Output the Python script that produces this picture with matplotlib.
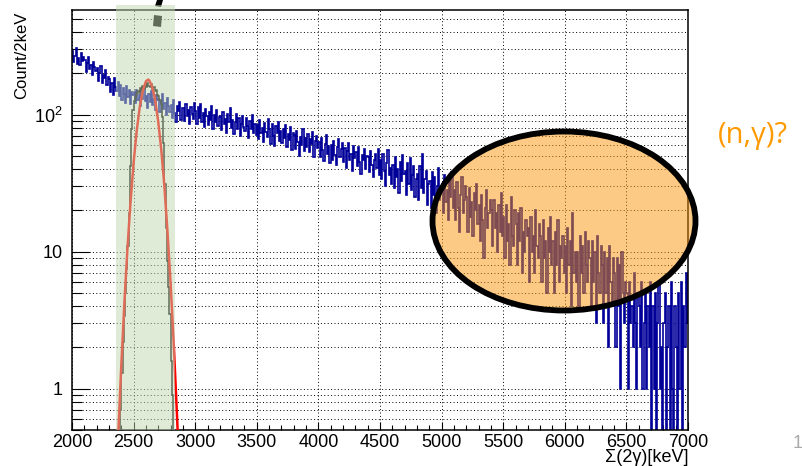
import numpy as np
import matplotlib
matplotlib.use('Agg')
import matplotlib.pyplot as plt
from matplotlib.patches import Rectangle, Ellipse, Polygon
from matplotlib.transforms import Affine2D, blended_transform_factory
from matplotlib.ticker import FixedLocator, FixedFormatter, LogLocator, NullFormatter, MultipleLocator

plt.rcParams['font.family'] = ['Liberation Sans', 'DejaVu Sans']
plt.rcParams['mathtext.fontset'] = 'custom'
plt.rcParams['mathtext.rm'] = 'Liberation Sans'

# sum energy spectrum, counts per 2keV, read in 10 keV steps from 2000 to 7000
blue_edges = np.arange(2000, 7001, 10)
blue_counts = [
    290, 242, 268, 305, 236, 259, 231, 284, 247, 262,
    251, 205, 237, 262, 214, 230, 196, 244, 221, 208,
    218, 176, 202, 227, 170, 195, 184, 212, 165, 189,
    181, 146, 170, 139, 186, 158, 149, 173, 137, 164,
    128, 157, 141, 122, 163, 135, 150, 119, 146, 138,
    # 2500
    147, 121, 152, 128, 139, 115, 144, 131, 158, 126,
    136, 112, 141, 124, 149, 118, 130, 108, 139, 127,
    131, 105, 126, 141, 110, 122, 99, 133, 116, 104,
    118, 94, 127, 102, 88, 115, 106, 124, 91, 111,
    112, 90, 119, 98, 108, 85, 114, 101, 93, 121,
    # 3000
    107, 86, 113, 94, 120, 89, 102, 81, 110, 97,
    84, 104, 91, 115, 79, 99, 88, 108, 83, 96,
    98, 77, 105, 86, 93, 74, 101, 89, 112, 80,
    92, 72, 88, 101, 79, 95, 70, 86, 98, 81,
    76, 94, 83, 68, 90, 78, 99, 73, 85, 71,
    # 3500
    84, 66, 91, 73, 80, 63, 87, 75, 69, 93,
    78, 61, 85, 70, 59, 82, 74, 89, 64, 76,
    62, 79, 67, 84, 58, 72, 65, 81, 55, 74,
    71, 56, 76, 63, 50, 69, 60, 78, 54, 67,
    58, 72, 53, 66, 61, 75, 49, 64, 70, 57,
    # 4000
    63, 49, 68, 55, 46, 61, 71, 52, 59, 44,
    60, 47, 64, 51, 43, 58, 66, 49, 56, 62,
    45, 57, 41, 54, 62, 47, 52, 39, 59, 48,
    53, 42, 58, 45, 37, 51, 47, 56, 40, 50,
    49, 38, 54, 43, 35, 47, 52, 41, 56, 36,
    # 4500
    47, 34, 52, 39, 30, 44, 55, 36, 41, 31,
    43, 29, 49, 35, 40, 27, 45, 33, 51, 37,
    39, 26, 44, 31, 48, 28, 36, 42, 25, 34,
    37, 24, 42, 29, 52, 27, 34, 39, 22, 31,
    33, 21, 38, 26, 35, 19, 30, 41, 24, 28,
    # 5000
    31, 19, 36, 23, 28, 17, 33, 25, 38, 21,
    28, 17, 32, 21, 14, 26, 35, 19, 24, 30,
    25, 14, 29, 18, 23, 13, 27, 20, 31, 16,
    22, 12, 26, 17, 9, 21, 28, 15, 19, 24,
    20, 11, 24, 15, 19, 10, 22, 14, 27, 13,
    # 5500
    18, 9, 22, 12, 16, 8, 25, 13, 11, 20,
    16, 8, 19, 12, 21, 7, 14, 10, 17, 13,
    15, 6, 18, 10, 13, 7, 20, 11, 9, 16,
    13, 6, 17, 9, 12, 5, 15, 10, 18, 8,
    12, 5, 14, 8, 17, 6, 11, 9, 13, 7,
    # 6000
    11, 5, 15, 8, 12, 4, 19, 7, 10, 6,
    10, 4, 13, 7, 11, 5, 14, 8, 6, 12,
    9, 4, 12, 6, 10, 3, 13, 7, 5, 11,
    8, 3, 10, 5, 9, 2, 11, 6, 4, 9,
    7, 2, 9, 4, 8, 1, 10, 5, 3, 6,
    # 6500
    5, 1, 6, 3, 4, 2, 7, 3, 1, 5,
    4, 2, 6, 1, 3, 5, 1, 4, 2, 6,
    0, 4, 1, 5, 0, 3, 6, 1, 2, 0,
    3, 5, 0, 2, 4, 0, 6, 1, 0, 4,
    2, 0, 5, 1, 6, 0, 4, 2, 7, 3,
]

# gated full energy peak
peak_edges = np.arange(2380, 2831, 10)
peak_counts = [0, 0.7, 1.3, 2.2, 3.4, 5, 7.5, 11, 19, 42,
               78, 108, 126, 133, 141, 148, 143, 156, 149, 161,
               153, 166, 158, 171, 163, 158, 167, 154, 160, 148,
               151, 139, 136, 128, 119, 96, 62, 31, 15, 8.5,
               5.5, 3.5, 1.6, 0.9, 0]

# gaussian fit curve
fit_x = [2360, 2370, 2380, 2400, 2425, 2450, 2475, 2500, 2525, 2550, 2575, 2600,
         2617, 2625, 2650, 2675, 2700, 2725, 2750, 2775, 2800, 2825, 2850, 2860]
fit_y = [0.21, 0.36, 0.58, 1.47, 4.2, 10.5, 23, 44.5, 76, 114, 150, 175,
         180, 179, 161, 128, 89, 55, 30, 14, 5.9, 2.2, 0.71, 0.44]

band_lo, band_hi = 2357, 2836

W, H = 802, 466
fig = plt.figure(figsize=(W / 100, H / 100), dpi=100)
ax = fig.add_axes([72 / W, 1 - 430 / H, (688 - 72) / W, (430 - 10) / H])
# pixel coordinates, origin top left
px = Affine2D().scale(1 / W, -1 / H).translate(0, 1) + fig.transFigure

ax.stairs(blue_counts, blue_edges, color='#000099', lw=1.2, baseline=None, zorder=2)
ax.stairs(peak_counts, peak_edges, color='black', lw=1.1, baseline=None, zorder=3)
ax.plot(fit_x, fit_y, color='red', lw=1.8, zorder=4)

ax.set_yscale('log')
ax.set_xlim(2000, 7000)
ax.set_ylim(0.5, 580)

ax.xaxis.set_major_locator(MultipleLocator(500))
ax.xaxis.set_minor_locator(MultipleLocator(100))
ax.yaxis.set_major_locator(FixedLocator([1, 10, 100]))
ax.yaxis.set_major_formatter(FixedFormatter(['1', '10', r'$\mathregular{10^{2}}$']))
ax.yaxis.set_minor_locator(LogLocator(subs=range(2, 10), numticks=20))
ax.yaxis.set_minor_formatter(NullFormatter())

ax.tick_params(axis='x', which='major', direction='in', length=6, width=0.8, pad=3, labelsize=13)
ax.tick_params(axis='x', which='minor', direction='in', length=3.5, width=0.8)
ax.tick_params(axis='y', which='major', direction='in', length=13, width=0.8, pad=7, labelsize=13)
ax.tick_params(axis='y', which='minor', direction='in', length=7, width=0.8)

dots = (0, (1, 2.5))
ax.set_axisbelow(True)
ax.grid(True, axis='x', which='major', color='black', ls=dots, lw=0.7)
ax.grid(True, axis='y', which='both', color='black', ls=dots, lw=0.7)
for s in ax.spines.values():
    s.set_linewidth(1.1)

# black arrow pieces at the top (partly under the band)
ax.add_patch(Polygon([(157, 0), (163, 0), (161, 7), (155, 6)], closed=True, transform=px,
                     fc='black', ec='none', clip_on=False, zorder=5))
ax.add_patch(Polygon([(154, 15), (162, 16), (161, 27), (153, 26)], closed=True, transform=px,
                     fc='black', ec='none', clip_on=False, zorder=5))

# green gate band
band_tr = blended_transform_factory(ax.transData, px)
ax.add_patch(Rectangle((band_lo, 5), band_hi - band_lo, 425, transform=band_tr,
                       fc='#c0d9b0', alpha=0.5, ec='none', clip_on=False, zorder=6))

# orange ellipse
fig.add_artist(Ellipse((564, 221), 263, 179, transform=px,
                       fc=(0.98, 0.59, 0.04, 0.5), ec='black', lw=4.2))

fig.text(22, 12, 'Count/2keV', transform=px, rotation=90, ha='center', va='top', fontsize=12)
fig.text(688, 458, 'Σ(2γ)[keV]', transform=px, ha='right', va='center', fontsize=13)
fig.text(753, 136, '(n,γ)?', transform=px, ha='center', va='center', fontsize=21,
         color='#ff9900', family=['Open Sans', 'DejaVu Sans'])
fig.text(793, 443, '1', transform=px, ha='left', va='center', fontsize=13, color='#aaaaaa')

fig.savefig('out.png', dpi=100)
